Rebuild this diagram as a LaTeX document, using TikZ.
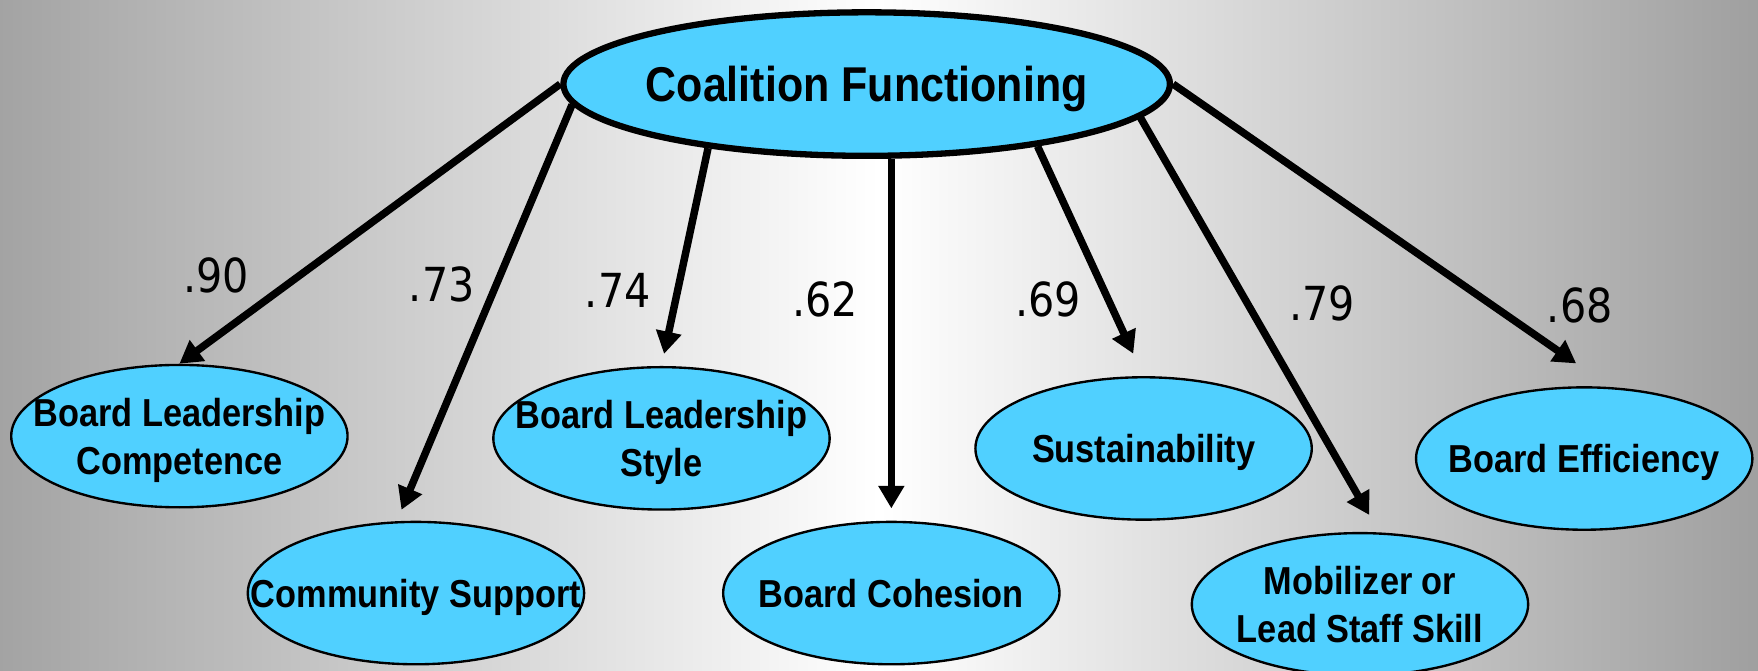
\documentclass[tikz,border=0pt]{standalone}
\usepackage{fontspec}
\setmainfont{Liberation Sans}
\newfontfamily\latfont[FakeStretch=0.88]{Liberation Sans}
\newfontfamily\wtfont[FakeStretch=0.88]{DejaVu Sans}
\usetikzlibrary{shapes.geometric, arrows.meta}
\definecolor{latblue}{RGB}{80,208,255}
\tikzset{
  fac/.style={ellipse, draw=black, line width=1.6pt, fill=latblue, minimum width=5.41cm, minimum height=1.28cm, inner sep=0pt},
  lat/.style={ellipse, draw=black, line width=0.6pt, fill=latblue, minimum width=3cm, minimum height=1.27cm, inner sep=0pt},
  factxt/.style={font=\latfont\bfseries\fontsize{12.4}{15}\selectfont, inner sep=0pt, text depth=0pt},
  lattxt/.style={font=\latfont\bfseries\fontsize{9.9}{12.2}\selectfont, align=center, inner sep=0pt, text depth=0pt},
  wt/.style={font=\wtfont\fontsize{11.9}{14}\selectfont, inner sep=0pt},
  arr/.style={line width=1.9pt, -{Triangle[length=2mm, width=2.2mm]}}
}
\begin{document}
\begin{tikzpicture}[x=0.1mm, y=-0.1mm]
	\useasboundingbox (0,0) rectangle (1568,598);
	\clip (0,0) rectangle (1568,598);
	\shade[left color=gray!72, right color=gray!75, middle color=white] (0,0) rectangle (1568,598);

	\node[fac, label={[factxt]center:Coalition Functioning}] (cf) at (773,75) {};

	\node[lat, label={[lattxt]center:{Board Leadership\\Competence}}] (blc) at (160,389) {};
	\node[lat, label={[lattxt]center:Community Support}] (cs) at (371,529) {};
	\node[lat, label={[lattxt]center:{Board Leadership\\Style}}] (bls) at (590,391) {};
	\node[lat, label={[lattxt]center:Board Cohesion}] (bc) at (795,529) {};
	\node[lat, label={[lattxt]center:Sustainability}] (sus) at (1020,400) {};
	\node[lat, label={[lattxt]center:{Mobilizer or\\Lead Staff Skill}}] (mob) at (1213,539) {};
	\node[lat, label={[lattxt]center:Board Efficiency}] (be) at (1413,409) {};
	%
	\draw[arr] (cf.west) -- (blc.north);
	\draw[arr, shorten >=1.1mm] (cf.184) -- (cs.105);
	\draw[arr, shorten >=1.1mm] (cf.202) -- (bls.north);
	\draw[arr, shorten >=1.1mm] (cf.south -| bc.north) -- (bc.north);
	\draw[arr, shorten >=2.2mm] (cf.340) -- (sus.north);
	\draw[arr, shorten >=1.8mm] (cf.353) -- (mob.75);
	\draw[arr, shorten >=3.7mm] (cf.east) -- (be.70);

	\node[wt] (w90) at (193,246) {.90};
	\node[wt] (w73) at (394,254) {.73};
	\node[wt] (w74) at (551,259) {.74};
	\node[wt] (w62) at (736,267) {.62};
	\node[wt] (w69) at (935,267) {.69};
	\node[wt] (w79) at (1179,271) {.79};
	\node[wt] (w68) at (1409,272) {.68};
\end{tikzpicture}
\end{document}
